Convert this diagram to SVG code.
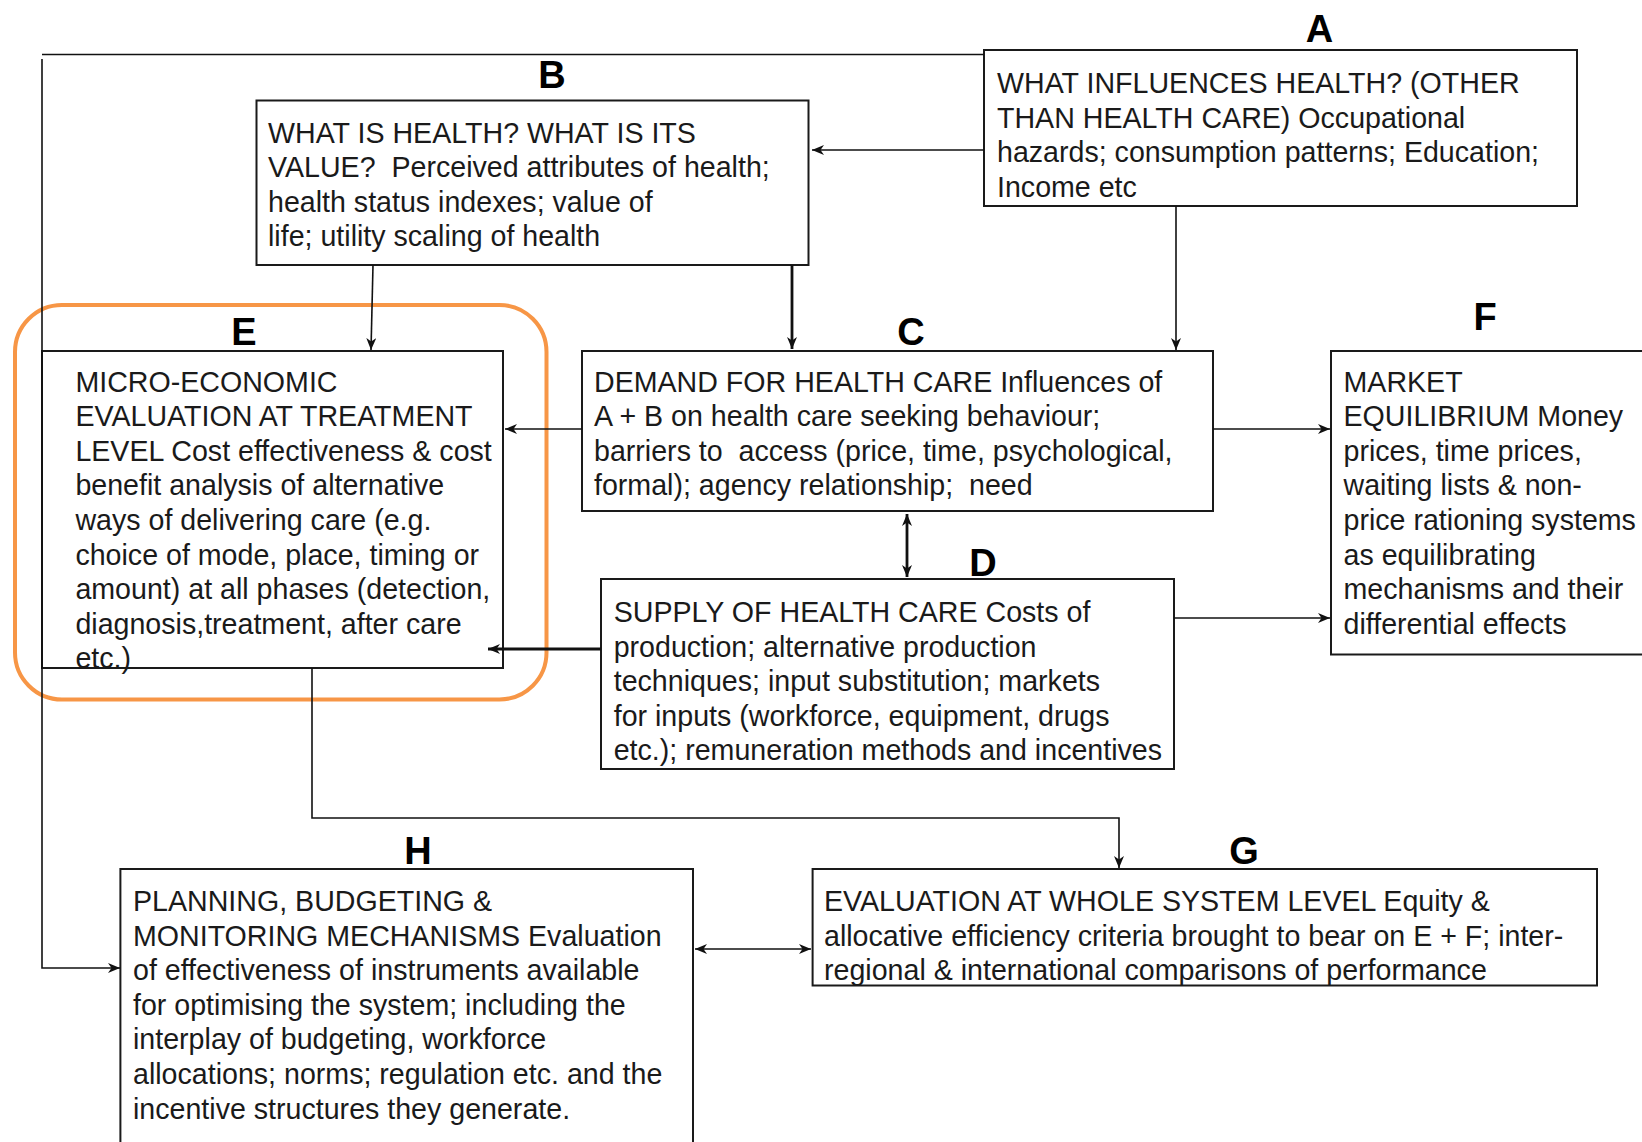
<svg xmlns="http://www.w3.org/2000/svg" width="1642" height="1142" viewBox="0 0 1642 1142">
  <style>
    .box { fill: #ffffff; stroke: #1a1a1a; stroke-width: 2; }
    .txt { font-family: "Liberation Sans", Arial, sans-serif; font-size: 28.6px; fill: #1a1a1a; }
    .lbl { font-family: "Liberation Sans", Arial, sans-serif; font-size: 38px; font-weight: bold; fill: #000; text-anchor: middle; }
    .con { fill: none; stroke: #111; stroke-width: 1.6; }
    .thick { stroke-width: 2.8; }
    .hl { fill: none; stroke: #F79646; stroke-width: 4; }
  </style>
  <defs>
    <marker id="arr" viewBox="0 0 12 10" refX="12" refY="5" markerWidth="12" markerHeight="10" markerUnits="userSpaceOnUse" orient="auto-start-reverse">
      <path d="M0,0 L12,5 L0,10 L3.5,5 z" fill="#111"/>
    </marker>
  </defs>
  <rect width="1642" height="1142" fill="#ffffff"/>

  <!-- A: influences on health -->
  <g id="node-A">
    <rect class="box" x="984" y="50" width="593" height="156"/>
    <text class="lbl" x="1319.5" y="42">A</text>
    <text class="txt">
      <tspan x="997" y="93">WHAT INFLUENCES HEALTH? (OTHER</tspan>
      <tspan x="997" y="127.6">THAN HEALTH CARE) Occupational</tspan>
      <tspan x="997" y="162.2">hazards; consumption patterns; Education;</tspan>
      <tspan x="997" y="196.8">Income etc</tspan>
    </text>
  </g>

  <!-- B: what is health -->
  <g id="node-B">
    <rect class="box" x="256.5" y="100.5" width="552" height="164.5"/>
    <text class="lbl" x="552" y="88">B</text>
    <text class="txt">
      <tspan x="268" y="142.5">WHAT IS HEALTH? WHAT IS ITS</tspan>
      <tspan x="268" y="177">VALUE?&#160; Perceived attributes of health;</tspan>
      <tspan x="268" y="211.5">health status indexes; value of</tspan>
      <tspan x="268" y="246">life; utility scaling of health</tspan>
    </text>
  </g>

  <!-- E: micro-economic evaluation -->
  <g id="node-E">
    <rect class="box" x="42" y="351" width="461" height="317"/>
    <text class="lbl" x="244" y="344.5">E</text>
    <text class="txt">
      <tspan x="75.4" y="391.6">MICRO-ECONOMIC</tspan>
      <tspan x="75.4" y="426.2">EVALUATION AT TREATMENT</tspan>
      <tspan x="75.4" y="460.8">LEVEL Cost effectiveness &amp; cost</tspan>
      <tspan x="75.4" y="495.4">benefit analysis of alternative</tspan>
      <tspan x="75.4" y="530">ways of delivering care (e.g.</tspan>
      <tspan x="75.4" y="564.6">choice of mode, place, timing or</tspan>
      <tspan x="75.4" y="599.2">amount) at all phases (detection,</tspan>
      <tspan x="75.4" y="633.8">diagnosis,treatment, after care</tspan>
      <tspan x="75.4" y="668.4">etc.)</tspan>
    </text>
    <rect class="hl" x="15" y="305" width="531.5" height="394.5" rx="47" ry="47"/>
  </g>

  <!-- C: demand -->
  <g id="node-C">
    <rect class="box" x="582" y="351" width="631" height="160"/>
    <text class="lbl" x="911" y="344.5">C</text>
    <text class="txt">
      <tspan x="594" y="391.6">DEMAND FOR HEALTH CARE Influences of</tspan>
      <tspan x="594" y="426.2">A + B on health care seeking behaviour;</tspan>
      <tspan x="594" y="460.8">barriers to&#160; access (price, time, psychological,</tspan>
      <tspan x="594" y="495.4">formal); agency relationship;&#160; need</tspan>
    </text>
  </g>

  <!-- F: market equilibrium -->
  <g id="node-F">
    <rect class="box" x="1331" y="351" width="330" height="303.5"/>
    <text class="lbl" x="1485" y="330">F</text>
    <text class="txt">
      <tspan x="1343.5" y="391.6">MARKET</tspan>
      <tspan x="1343.5" y="426.2">EQUILIBRIUM Money</tspan>
      <tspan x="1343.5" y="460.8">prices, time prices,</tspan>
      <tspan x="1343.5" y="495.4">waiting lists &amp; non-</tspan>
      <tspan x="1343.5" y="530">price rationing systems</tspan>
      <tspan x="1343.5" y="564.6">as equilibrating</tspan>
      <tspan x="1343.5" y="599.2">mechanisms and their</tspan>
      <tspan x="1343.5" y="633.8">differential effects</tspan>
    </text>
  </g>

  <!-- D: supply -->
  <g id="node-D">
    <rect class="box" x="601" y="579" width="573" height="190"/>
    <text class="lbl" x="983" y="576">D</text>
    <text class="txt">
      <tspan x="613.7" y="622">SUPPLY OF HEALTH CARE Costs of</tspan>
      <tspan x="613.7" y="656.6">production; alternative production</tspan>
      <tspan x="613.7" y="691.2">techniques; input substitution; markets</tspan>
      <tspan x="613.7" y="725.8">for inputs (workforce, equipment, drugs</tspan>
      <tspan x="613.7" y="760.4">etc.); remuneration methods and incentives</tspan>
    </text>
  </g>

  <!-- H: planning, budgeting and monitoring -->
  <g id="node-H">
    <rect class="box" x="120.4" y="869" width="572.6" height="300"/>
    <text class="lbl" x="418" y="864">H</text>
    <text class="txt">
      <tspan x="133" y="911">PLANNING, BUDGETING &amp;</tspan>
      <tspan x="133" y="945.6">MONITORING MECHANISMS Evaluation</tspan>
      <tspan x="133" y="980.2">of effectiveness of instruments available</tspan>
      <tspan x="133" y="1014.8">for optimising the system; including the</tspan>
      <tspan x="133" y="1049.4">interplay of budgeting, workforce</tspan>
      <tspan x="133" y="1084">allocations; norms; regulation etc. and the</tspan>
      <tspan x="133" y="1118.6">incentive structures they generate.</tspan>
    </text>
  </g>

  <!-- G: whole-system evaluation -->
  <g id="node-G">
    <rect class="box" x="812.6" y="869" width="784.4" height="116.5"/>
    <text class="lbl" x="1244" y="864">G</text>
    <text class="txt">
      <tspan x="824" y="911">EVALUATION AT WHOLE SYSTEM LEVEL Equity &amp;</tspan>
      <tspan x="824" y="945.6">allocative efficiency criteria brought to bear on E + F; inter-</tspan>
      <tspan x="824" y="980.2">regional &amp; international comparisons of performance</tspan>
    </text>
  </g>

  <!-- connectors (drawn last so arrow tips sit on top of the boxes) -->
  <g id="connectors">
    <polyline class="con" points="984,54.5 42,54.5"/>
    <polyline class="con" points="42,59 42,968 120,968" marker-end="url(#arr)"/>
    <line class="con" x1="984" y1="150" x2="812" y2="150" marker-end="url(#arr)"/>
    <line class="con" x1="1176" y1="206" x2="1176" y2="350" marker-end="url(#arr)"/>
    <line class="con" x1="373" y1="265" x2="371" y2="350" marker-end="url(#arr)"/>
    <line class="con thick" x1="792" y1="265" x2="792" y2="349" marker-end="url(#arr)"/>
    <line class="con" x1="582" y1="429" x2="505" y2="429" marker-end="url(#arr)"/>
    <line class="con thick" x1="601" y1="649" x2="488" y2="649" marker-end="url(#arr)"/>
    <line class="con thick" x1="907" y1="514" x2="907" y2="577" marker-start="url(#arr)" marker-end="url(#arr)"/>
    <line class="con" x1="1213" y1="429" x2="1330" y2="429" marker-end="url(#arr)"/>
    <line class="con" x1="1174" y1="618" x2="1330" y2="618" marker-end="url(#arr)"/>
    <polyline class="con" points="312,668 312,818 1119,818 1119,868" marker-end="url(#arr)"/>
    <line class="con" x1="695" y1="949" x2="811" y2="949" marker-start="url(#arr)" marker-end="url(#arr)"/>
  </g>
</svg>
